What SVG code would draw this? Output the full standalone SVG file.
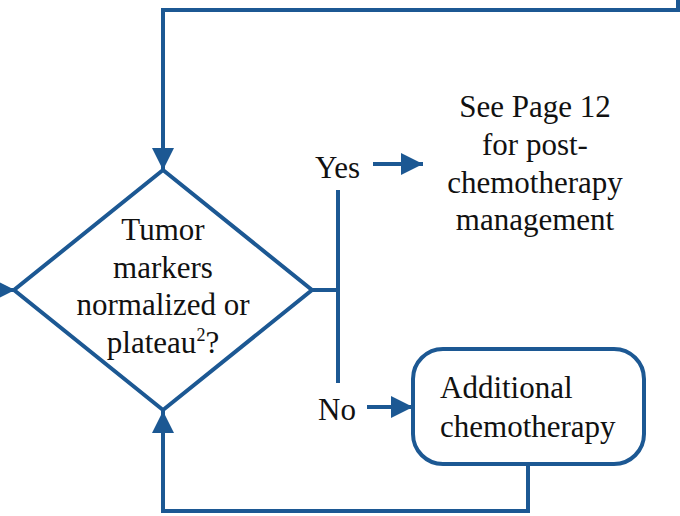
<svg xmlns="http://www.w3.org/2000/svg" width="680" height="516" viewBox="0 0 680 516">
  <style>
    .ln { fill: none; stroke: #1c5893; stroke-width: 4; }
    .shape { fill: #ffffff; stroke: #1c5893; stroke-width: 4; }
    text { font-family: "Liberation Serif", "Times New Roman", serif; font-size: 31px; fill: #111111; }
    .c { text-anchor: middle; }
  </style>
  <defs>
    <marker id="arrow" viewBox="0 0 10 10" refX="10" refY="5" markerWidth="5.5" markerHeight="5.5" markerUnits="strokeWidth" orient="auto">
      <path d="M0,0 L10,5 L0,10 z" fill="#1c5893"/>
    </marker>
  </defs>

  <g id="connectors">
    <!-- loop back from top into the decision -->
    <polyline class="ln" points="678,0 678,10 163,10 163,170" marker-end="url(#arrow)"/>
    <!-- incoming from the left -->
    <line class="ln" x1="0" y1="290" x2="15" y2="290" marker-end="url(#arrow)"/>
    <!-- decision branch -->
    <line class="ln" x1="312" y1="290" x2="338" y2="290"/>
    <line class="ln" x1="338" y1="190" x2="338" y2="383"/>
    <!-- yes -->
    <line class="ln" x1="373" y1="164" x2="423" y2="164" marker-end="url(#arrow)"/>
    <!-- no -->
    <line class="ln" x1="367" y1="407" x2="413" y2="407" marker-end="url(#arrow)"/>
    <!-- loop back from additional chemotherapy -->
    <polyline class="ln" points="528,464 528,511 163,511 163,411" marker-end="url(#arrow)"/>
  </g>

  <g id="decision">
    <polygon class="shape" points="163,170 312,290 163,410 14,290"/>
    <text class="c" x="163" y="240">Tumor</text>
    <text class="c" x="163" y="278">markers</text>
    <text class="c" x="163" y="315">normalized or</text>
    <text class="c" x="163" y="353">plateau<tspan font-size="18" dy="-12">2</tspan><tspan dy="12">?</tspan></text>
  </g>

  <g id="yes-label">
    <text x="315" y="178">Yes</text>
  </g>

  <g id="no-label">
    <text x="318" y="420">No</text>
  </g>

  <g id="see-page">
    <text class="c" x="535" y="117">See Page 12</text>
    <text class="c" x="535" y="155">for post-</text>
    <text class="c" x="535" y="193">chemotherapy</text>
    <text class="c" x="535" y="230">management</text>
  </g>

  <g id="additional">
    <rect class="shape" x="413" y="349" width="231" height="115" rx="30" ry="30"/>
    <text x="440" y="398">Additional</text>
    <text x="440" y="437">chemotherapy</text>
  </g>
</svg>
